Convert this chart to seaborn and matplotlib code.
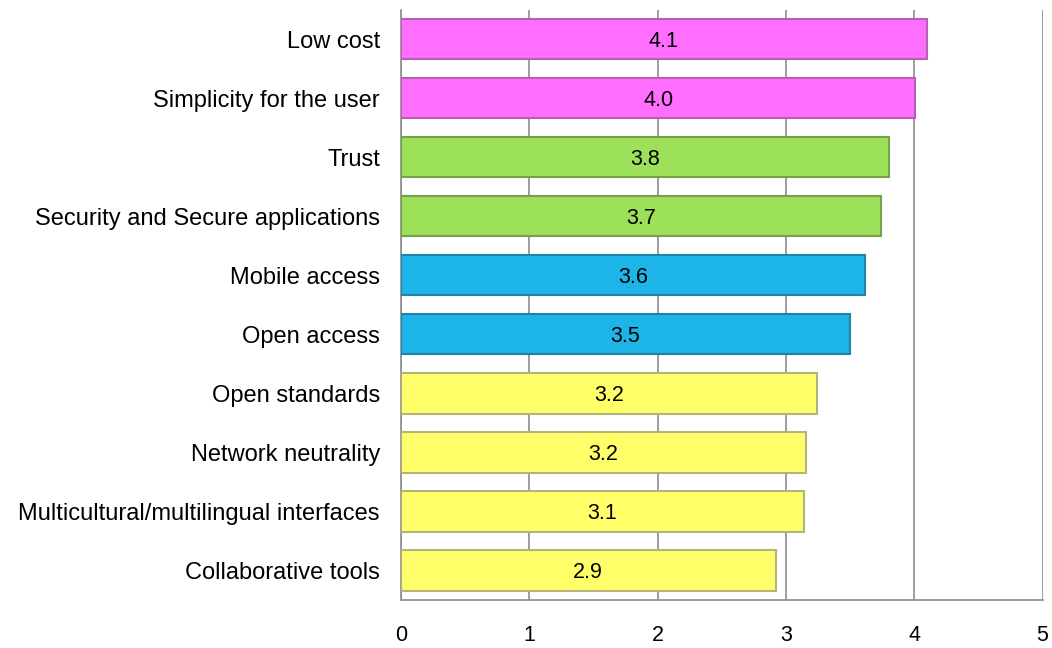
import pandas as pd
import matplotlib.pyplot as plt
import seaborn as sns

# Chart data
categories = ["Low cost", "Simplicity for the user", "Trust",
              "Security and Secure applications", "Mobile access", "Open access",
              "Open standards", "Network neutrality",
              "Multicultural/multilingual interfaces", "Collaborative tools"]
scores = [4.10, 4.01, 3.80, 3.74, 3.62, 3.50, 3.24, 3.16, 3.14, 2.92]
labels = ["4.1", "4.0", "3.8", "3.7", "3.6", "3.5", "3.2", "3.2", "3.1", "2.9"]
groups = ["pink", "pink", "green", "green", "blue", "blue",
          "yellow", "yellow", "yellow", "yellow"]
x_ticks = [0, 1, 2, 3, 4, 5]

face = {"pink": "#FF6EFF", "green": "#9DE05A", "blue": "#1DB5E8", "yellow": "#FFFF6A"}
edge = {"pink": "#B85FB2", "green": "#76A04A", "blue": "#1F84A8", "yellow": "#B5B27A"}

df = pd.DataFrame({"Category": categories, "Score": scores, "Group": groups})

sns.set_style("white")
plt.rcParams['font.family'] = ['Liberation Sans', 'DejaVu Sans']

fig = plt.figure(figsize=(10.52, 6.48), dpi=100)
ax = fig.add_axes([0.381, 0.074, 0.610, 0.911])

sns.barplot(data=df, y="Category", x="Score", hue="Group", palette=face,
            dodge=False, width=0.68, saturation=1, legend=False, ax=ax, zorder=3)

for bar, g in zip(ax.patches, groups):
    bar.set_edgecolor(edge[g])
    bar.set_linewidth(1.5)

# value labels in the middle of each bar
for i, (v, t) in enumerate(zip(scores, labels)):
    ax.text(v / 2, i + 0.03, t, ha="center", va="center", fontsize=15.5, color="black", zorder=4)

ax.set_xlim(0, 5)
ax.set_ylim(len(categories) - 0.5, -0.5)
ax.set_xticks(x_ticks)
ax.set_xticklabels([str(t) for t in x_ticks])
ax.xaxis.grid(True, color="#8C8C8C", linewidth=1.2, zorder=0)
ax.set_axisbelow(True)
ax.tick_params(axis="x", labelsize=15.5, pad=18, length=0, labelcolor="black")
ax.tick_params(axis="y", labelsize=17, pad=15, length=0, labelcolor="black")
ax.set_xlabel("")
ax.set_ylabel("")

for s in ["top", "right"]:
    ax.spines[s].set_visible(False)
for s in ["left", "bottom"]:
    ax.spines[s].set_color("#8C8C8C")
    ax.spines[s].set_linewidth(1.2)

fig.savefig("out.png", dpi=100)
